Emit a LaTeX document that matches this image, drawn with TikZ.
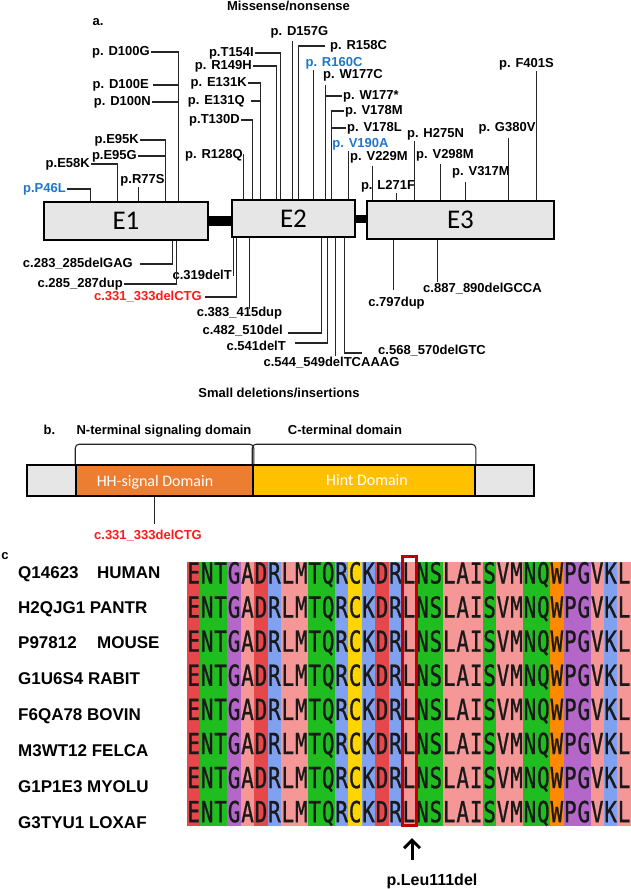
\documentclass[tikz,border=0pt]{standalone}
\usepackage{fontspec}
\setmainfont{Liberation Sans}
\newfontfamily\exfont{Carlito}
\newfontfamily\seqfont[FakeStretch=0.72,FakeBold=0.8]{DejaVu Sans Mono}
\usetikzlibrary{arrows.meta}
\definecolor{boxgray}{HTML}{E6E6E6}
\definecolor{lblue}{HTML}{1F77C9}
\definecolor{lred}{HTML}{FF1A1A}
\definecolor{hhorange}{HTML}{ED7D31}
\definecolor{hintyellow}{HTML}{FFC000}
\definecolor{aaR}{HTML}{E5474B}
\definecolor{aaG}{HTML}{20BD20}
\definecolor{aaP}{HTML}{B467C8}
\definecolor{aaK}{HTML}{F59797}
\definecolor{aaB}{HTML}{80A0F0}
\definecolor{aaY}{HTML}{FFD500}
\definecolor{aaO}{HTML}{FF8A00}
\definecolor{selred}{HTML}{C00000}
\begin{document}
\begin{tikzpicture}[x=1pt,y=-1pt,
  lbl/.style={font=\bfseries\fontsize{13}{15}\selectfont, inner sep=1pt, text height=9.4pt, text depth=2.8pt},
  conn/.style={draw=black!85, line width=1.1pt},
  exon/.style={draw=black, line width=1.8pt, fill=boxgray, font=\exfont\fontsize{27}{30}\selectfont, inner sep=0pt},
  seg/.style={draw=black, line width=1.6pt, inner sep=0pt, minimum height=31pt},
  domtxt/.style={font=\exfont\fontsize{16}{18}\selectfont, text=white, inner sep=0pt},
  rowlbl/.style={font=\bfseries\fontsize{17}{20}\selectfont, anchor=west, inner sep=0pt, text height=12.2pt, text depth=0pt},
  seqch/.style={font=\seqfont\fontsize{29}{30}\selectfont, inner sep=0pt, text=black!90, anchor=base}]
\useasboundingbox (0,0) rectangle (631,889);
\fill[white] (0,0) rectangle (631,889);

% ---------- part a ----------
\node[lbl, anchor=base] (t1) at (288.5,10) {Missense/nonsense};
\node[lbl] (alab) at (98,22) {a.};

\node[exon, minimum width=164pt, minimum height=38pt] (e1) at (126,221) {E1};
\node[exon, minimum width=123pt, minimum height=37pt] (e2) at (293.5,218.5) {E2};
\node[exon, minimum width=187pt, minimum height=38pt] (e3) at (460.5,220) {E3};
\draw[line width=10pt] (e1.east) -- (e1.east -| e2.west);
\draw[line width=8pt] (e2.east) -- (e2.east -| e3.west);

% feet on E1
\coordinate (f46) at ([xshift=47pt]e1.north west);
\coordinate (f58) at ([xshift=74pt]e1.north west);
\coordinate (f77) at ([xshift=95pt]e1.north west);
\coordinate (f95) at ([xshift=122pt]e1.north west);
\coordinate (f100) at ([xshift=135pt]e1.north west);
\coordinate (g283) at ([xshift=129pt]e1.south west);
\coordinate (g285) at ([xshift=133pt]e1.south west);
% feet on E2
\coordinate (f128) at ([xshift=12pt]e2.north west);
\coordinate (f130) at ([xshift=21pt]e2.north west);
\coordinate (f131) at ([xshift=29pt]e2.north west);
\coordinate (f149) at ([xshift=45pt]e2.north west);
\coordinate (f154) at ([xshift=49pt]e2.north west);
\coordinate (f157) at ([xshift=61pt]e2.north west);
\coordinate (f158) at ([xshift=67pt]e2.north west);
\coordinate (f160) at ([xshift=82pt]e2.north west);
\coordinate (f177) at ([xshift=94pt]e2.north west);
\coordinate (f178) at ([xshift=100pt]e2.north west);
\coordinate (f190) at ([xshift=117pt]e2.north west);
\coordinate (g319) at ([xshift=2pt]e2.south west);
\coordinate (g331) at ([xshift=5pt]e2.south west);
\coordinate (g383) at ([xshift=18pt]e2.south west);
\coordinate (g482) at ([xshift=90pt]e2.south west);
\coordinate (g541) at ([xshift=96pt]e2.south west);
\coordinate (g544) at ([xshift=104pt]e2.south west);
\coordinate (g568) at ([xshift=113pt]e2.south west);
% feet on E3
\coordinate (f229) at ([xshift=6pt]e3.north west);
\coordinate (f271) at ([xshift=30pt]e3.north west);
\coordinate (f275) at ([xshift=48pt]e3.north west);
\coordinate (f298) at ([xshift=74pt]e3.north west);
\coordinate (f317) at ([xshift=99pt]e3.north west);
\coordinate (f380) at ([xshift=142pt]e3.north west);
\coordinate (f401) at ([xshift=170pt]e3.north west);
\coordinate (g797) at ([xshift=27pt]e3.south west);
\coordinate (g887) at ([xshift=71pt]e3.south west);

% labels above E1
\node[lbl, text=lblue, anchor=east] (p46l) at (67,189) {p.P46L};
\node[lbl, anchor=east] (e58k) at (91,164) {p.E58K};
\node[lbl] (r77s) at (142.5,180) {p.R77S};
\node[lbl, anchor=east] (e95k) at (140,140) {p.E95K};
\node[lbl, anchor=east] (e95g) at (138,156) {p.E95G};
\node[lbl, anchor=east] (d100g) at (151,52) {p. D100G};
\node[lbl, anchor=east] (d100e) at (150,85) {p. D100E};
\node[lbl, anchor=east] (d100n) at (152,102) {p. D100N};
\draw[conn] (p46l.east) -| (f46);
\draw[conn] (e58k.east) -| (f58);
\draw[conn] (r77s.south -| f77) -- (f77);
\draw[conn] (e95k.east) -| (f95);
\draw[conn] (e95g.east) -- (e95g.east -| f95);
\draw[conn] (d100g.east) -| (f100);
\draw[conn] ([xshift=3pt]d100e.east) -- (d100e.east -| f100);
\draw[conn] (d100n.east) -- (d100n.east -| f100);

% labels above E2
\node[lbl, anchor=east] (r128q) at (244,155) {p. R128Q};
\node[lbl, anchor=east] (t130d) at (241,120) {p.T130D};
\node[lbl, anchor=east] (e131k) at (248,83) {p. E131K};
\node[lbl, anchor=east] (e131q) at (246,101) {p. E131Q};
\node[lbl, anchor=east] (r149h) at (253,66) {p. R149H};
\node[lbl, anchor=east] (t154i) at (255,53) {p.T154I};
\node[lbl] (d157g) at (299.5,32) {p. D157G};
\node[lbl, anchor=west] (r158c) at (329,46) {p. R158C};
\node[lbl, text=lblue] (r160c) at (334,63) {p. R160C};
\node[lbl] (w177c) at (353,75) {p. W177C};
\node[lbl, anchor=west] (w177s) at (342,96) {p. W177*};
\node[lbl, anchor=west] (v178m) at (344,111) {p. V178M};
\node[lbl, anchor=west] (v178l) at (346,128) {p. V178L};
\node[lbl, text=lblue] (v190a) at (360.5,144) {p. V190A};
\draw[conn] (r128q.east) -| (f128);
\draw[conn] (t130d.east) -| (f130);
\draw[conn] (e131k.east) -| (f131);
\draw[conn] ([xshift=5pt]e131q.east) -- (e131q.east -| f131);
\draw[conn] (r149h.east) -| (f149);
\draw[conn] (t154i.east) -| (f154);
\draw[conn, shorten <=2pt] (d157g.south -| f157) -- (f157);
\draw[conn] ([xshift=-4pt]r158c.west) -| (f158);
\draw[conn] (r160c.south -| f160) -- (f160);
\draw[conn, shorten <=3pt] (w177c.south -| f177) -- (f177);
\draw[conn] (w177s.west) -- (w177s.west -| f177);
\draw[conn] (v178m.west) -| (f178);
\draw[conn] (v178l.west) -- (v178l.west -| f178);
\draw[conn] (v190a.south -| f190) -- (f190);

% labels above E3
\node[lbl] (v229m) at (379,157) {p. V229M};
\node[lbl] (l271f) at (388,186) {p. L271F};
\node[lbl] (h275n) at (435.5,134) {p. H275N};
\node[lbl] (v298m) at (445,155) {p. V298M};
\node[lbl] (v317m) at (481,172) {p. V317M};
\node[lbl] (g380v) at (507,128) {p. G380V};
\node[lbl] (f401s) at (526.5,64) {p. F401S};
\draw[conn, shorten <=2pt] (v229m.south -| f229) -- (f229);
\draw[conn] (l271f.south -| f271) -- (f271);
\draw[conn] (h275n.south -| f275) -- (f275);
\draw[conn, shorten <=2pt] (v298m.south -| f298) -- (f298);
\draw[conn, shorten <=3pt] (v317m.south -| f317) -- (f317);
\draw[conn, shorten <=3pt] (g380v.south -| f380) -- (f380);
\draw[conn] (f401s.south -| f401) -- (f401);

% labels below
\node[lbl, anchor=east] (c283) at (134,264) {c.283\_285delGAG};
\node[lbl, anchor=east] (c285) at (124,284) {c.285\_287dup};
\node[lbl, anchor=east] (c319) at (233,276) {c.319delT};
\node[lbl, anchor=east, text=lred] (c331) at (203,297) {c.331\_333delCTG};
\node[lbl] (c383) at (239.5,313) {c.383\_415dup};
\node[lbl, anchor=east] (c482) at (284,331) {c.482\_510del};
\node[lbl, anchor=east] (c541) at (287,347) {c.541delT};
\node[lbl] (c544) at (331.5,363) {c.544\_549delTCAAAG};
\node[lbl, anchor=west] (c568) at (377,351) {c.568\_570delGTC};
\node[lbl] (c797) at (396.5,303) {c.797dup};
\node[lbl] (c887) at (482.5,289) {c.887\_890delGCCA};
\draw[conn] ([xshift=6pt]c283.east) -| (g283);
\draw[conn] (c285.east) -| (g285);
\draw[conn] (c319.east -| g319) -- (g319);
\draw[conn] ([xshift=2pt]c331.east) -| (g331);
\draw[conn, shorten <=-3pt] (c383.north -| g383) -- (g383);
\draw[conn] ([xshift=4pt,yshift=-2pt]c482.east) -| (g482);
\draw[conn] ([xshift=8pt,yshift=4pt]c541.east) -| (g541);
\draw[conn] (c544.north -| g544) -- (g544);
\draw[conn] ([xshift=-15pt,yshift=-2pt]c568.west) -| (g568);
\draw[conn, shorten <=6pt] (c797.north -| g797) -- (g797);
\draw[conn] (c887.north -| g887) -- (g887);

% ---------- part b ----------
\node[lbl] (t2) at (279,394) {Small deletions/insertions};
\node[lbl] (blab) at (49.5,431) {b.};
\node[lbl] (nterm) at (164,431) {N-terminal signaling domain};
\node[lbl] (cterm) at (345,431) {C-terminal domain};
\node[seg, fill=boxgray, minimum width=49pt] (g1) at (51.5,480.5) {};
\node[seg, fill=hhorange, minimum width=177pt] (hh) at (164.5,480.5) {};
\node[seg, fill=hintyellow, minimum width=222pt] (hint) at (364,480.5) {};
\node[seg, fill=boxgray, minimum width=59pt] (g2) at (504.5,480.5) {};
\node[domtxt] (hhtxt) at (155,482) {HH-signal Domain};
\node[domtxt] (hinttxt) at (367,480) {Hint Domain};
\draw[conn, rounded corners=4pt] (hh.north west) -- ([yshift=20pt]hh.north west) -- ([yshift=20pt]hh.north east) -- (hh.north east);
\draw[conn, rounded corners=4pt] (hint.north west) -- ([yshift=20pt]hint.north west) -- ([yshift=20pt]hint.north east) -- (hint.north east);
\coordinate (bfoot) at ([xshift=79pt]hh.south west);
\node[lbl, text=lred] (c331b) at (148,536) {c.331\_333delCTG};
\draw[conn, shorten >=5pt] (bfoot) -- (bfoot |- c331b.north);

% ---------- part c ----------
\node[lbl] (clab) at (5,556) {c};
\foreach \aa/\col [count=\i from 0] in {E/aaR,N/aaG,T/aaG,G/aaP,A/aaK,D/aaR,R/aaB,L/aaK,M/aaK,T/aaG,Q/aaG,R/aaB,C/aaY,K/aaB,D/aaR,R/aaB,L/aaK,N/aaG,S/aaG,L/aaK,A/aaK,I/aaK,S/aaG,V/aaK,M/aaK,N/aaG,Q/aaG,W/aaO,P/aaP,G/aaP,V/aaK,K/aaB,L/aaK} {
  \fill[\col] ({187+\i*13.45},562) rectangle ({187+(\i+1)*13.45+0.3},826);
  \foreach \r in {0,...,7} {
    \node[seqch] (s\i-\r) at ({187+(\i+0.5)*13.45},{583.5+\r*34.1}) {\aa};
  }
}
\node[rowlbl] (r1a) at (18,572) {Q14623};
\node[rowlbl] (r1b) at (97,572) {HUMAN};
\node[rowlbl] (r2) at (18,607) {H2QJG1 PANTR};
\node[rowlbl] (r3a) at (18,642) {P97812};
\node[rowlbl] (r3b) at (97,642) {MOUSE};
\node[rowlbl] (r4) at (18,678) {G1U6S4 RABIT};
\node[rowlbl] (r5) at (18,714) {F6QA78 BOVIN};
\node[rowlbl] (r6) at (18,750) {M3WT12 FELCA};
\node[rowlbl] (r7) at (18,786) {G1P1E3 MYOLU};
\node[rowlbl] (r8) at (18,822) {G3TYU1 LOXAF};

\node[draw=selred, line width=3pt, minimum width=14pt, minimum height=269pt, inner sep=0pt] (selbox) at (409,691) {};
\node[lbl, font=\bfseries\fontsize{16}{18}\selectfont, text height=11.5pt, text depth=3.4pt, anchor=base] (leu) at (432,885) {p.Leu111del};
\coordinate (arrtop) at ([xshift=3pt]selbox.south);
\draw[line width=3pt, -{Straight Barb[length=8pt,width=16pt]}, shorten <=12pt, shorten >=11pt] (arrtop |- leu.north) -- (arrtop);
\end{tikzpicture}
\end{document}
